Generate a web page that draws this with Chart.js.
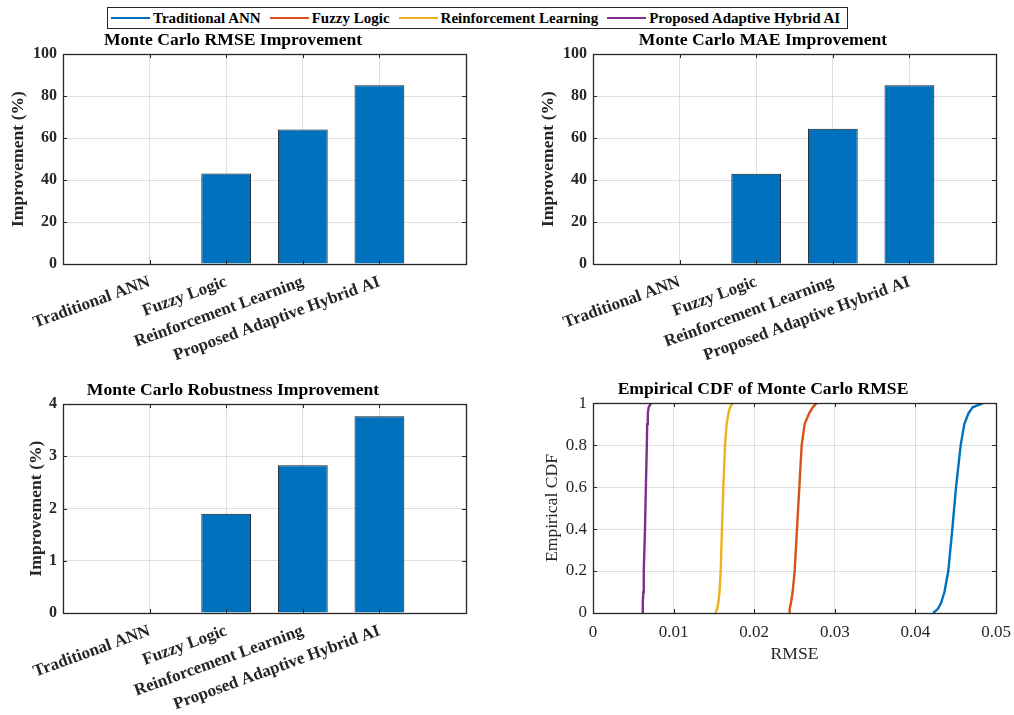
<!DOCTYPE html>
<html>
<head>
<meta charset="utf-8">
<script src="https://cdn.jsdelivr.net/npm/chart.js@4.4.1/dist/chart.umd.min.js"></script>
<style>
  body { margin: 0; background: #fff; width: 1014px; height: 715px; position: relative; overflow: hidden; }
  canvas { position: absolute; }
  #legend {
    position: absolute; left: 107px; top: 7px; width: 741px; height: 22px;
    border: 1px solid #262626; box-sizing: border-box; background: #fff;
    display: flex; align-items: center; padding-left: 3px;
    font: bold 15px "Liberation Serif", serif; color: #000; white-space: nowrap;
  }
  #legend .item { display: flex; align-items: center; margin-right: 9px; }
  #legend .swatch { width: 39px; height: 2px; margin-right: 3px; }
</style>
</head>
<body>
<div id="legend"></div>
<canvas id="rmseChart" width="507" height="358" style="left:0;top:27px"></canvas>
<canvas id="maeChart" width="484" height="358" style="left:530px;top:27px"></canvas>
<canvas id="robustChart" width="507" height="338" style="left:0;top:377px"></canvas>
<canvas id="cdfChart" width="484" height="339" style="left:530px;top:376px"></canvas>
<script>
// methods compared in the Monte Carlo runs
const methods = ['Traditional ANN', 'Fuzzy Logic', 'Reinforcement Learning', 'Proposed Adaptive Hybrid AI'];
const methodColors = ['#0072BD', '#D95319', '#EDB120', '#7E2F8E'];

// improvement over the traditional ANN (%)
const rmseImprovement = [0, 43.1, 64.1, 85.2];
const maeImprovement = [0, 43.0, 64.4, 85.2];
const robustnessImprovement = [0, 1.90, 2.83, 3.77];

// empirical CDF of RMSE: RMSE value reached at each CDF level
const cdfLevels = [0, 0.02, 0.05, 0.1, 0.2, 0.4, 0.6, 0.8, 0.9, 0.95, 0.98, 1];
const rmseANN = [0.0422, 0.0428, 0.0432, 0.0436, 0.04408, 0.04458, 0.04504, 0.04562, 0.04607, 0.04657, 0.0471, 0.0484];
const rmseFuzzy = [0.02432, 0.0244, 0.02457, 0.02477, 0.02502, 0.02531, 0.0256, 0.02589, 0.02626, 0.0268, 0.02726, 0.02775];
const rmseRL = [0.0152, 0.0154, 0.01555, 0.0157, 0.01584, 0.016, 0.01617, 0.01638, 0.01658, 0.0168, 0.017, 0.01733];
const rmseHybrid = [0.0061, 0.00615, 0.0062, 0.00625, 0.0063, 0.00645, 0.00656, 0.00668, 0.00672, 0.0068, 0.0069, 0.0072];
const cdfSeries = [rmseANN, rmseFuzzy, rmseRL, rmseHybrid];

const serif = '"Liberation Serif", "Times New Roman", serif';
const axisColor = '#262626';
const gridColor = 'rgba(38,38,38,0.15)';

// legend row
const legendEl = document.getElementById('legend');
methods.forEach((m, i) => {
  const item = document.createElement('span');
  item.className = 'item';
  const sw = document.createElement('span');
  sw.className = 'swatch';
  sw.style.background = methodColors[i];
  item.appendChild(sw);
  item.appendChild(document.createTextNode(m));
  legendEl.appendChild(item);
});

// full box around the plot area with inward tick marks on all four sides
const axesBox = {
  id: 'axesBox',
  afterDatasetsDraw(chart) {
    const {ctx, chartArea: a, scales} = chart;
    const len = 4;
    ctx.save();
    ctx.strokeStyle = axisColor;
    ctx.lineWidth = 1;
    ctx.beginPath();
    scales.x.ticks.forEach(t => {
      const px = Math.round(scales.x.getPixelForValue(t.value)) + 0.5;
      ctx.moveTo(px, a.bottom); ctx.lineTo(px, a.bottom - len);
      ctx.moveTo(px, a.top); ctx.lineTo(px, a.top + len);
    });
    scales.y.ticks.forEach(t => {
      const py = Math.round(scales.y.getPixelForValue(t.value)) + 0.5;
      ctx.moveTo(a.left, py); ctx.lineTo(a.left + len, py);
      ctx.moveTo(a.right, py); ctx.lineTo(a.right - len, py);
    });
    ctx.stroke();
    ctx.lineWidth = 1.3;
    ctx.strokeRect(Math.round(a.left) + 0.5, Math.round(a.top) + 0.5,
                   Math.round(a.right - a.left), Math.round(a.bottom - a.top));
    ctx.restore();
  }
};

// keep the plot area fixed: no extra room for overhanging tick labels
function noLabelPadding(s) {
  s.paddingLeft = 0; s.paddingRight = 0; s.paddingTop = 0; s.paddingBottom = 0;
}

const plainNumber = v => String(+Number(v).toFixed(3));

function barChart(id, title, values, yMax, yStep, yTitlePad, rightPad, xAxisHeight) {
  return new Chart(document.getElementById(id), {
    type: 'bar',
    data: {
      datasets: [{
        data: values.map((v, i) => ({x: i + 1, y: v})),
        backgroundColor: '#0072BD',
        borderColor: '#1a1a1a',
        borderWidth: 1,
        barPercentage: 0.65,
        categoryPercentage: 1
      }]
    },
    options: {
      responsive: false,
      animation: false,
      layout: {padding: {left: 0, right: rightPad, top: 0, bottom: 0}},
      plugins: {
        legend: {display: false},
        tooltip: {enabled: false},
        title: {
          display: true, text: title, color: '#000',
          font: {family: serif, size: 17.6, weight: 'bold'},
          padding: {top: 3, bottom: 3}
        }
      },
      scales: {
        x: {
          type: 'linear', min: -0.13, max: 5.13, offset: false,
          afterBuildTicks: s => { s.ticks = methods.map((m, i) => ({value: i + 1})); },
          afterFit: s => { s.height = xAxisHeight; noLabelPadding(s); },
          grid: {color: gridColor, drawTicks: false, offset: false},
          border: {display: false},
          ticks: {
            autoSkip: false, minRotation: 20, maxRotation: 20, padding: 8,
            color: axisColor, font: {family: serif, size: 17, weight: 'bold'},
            callback: v => methods[v - 1]
          }
        },
        y: {
          min: 0, max: yMax,
          afterFit: s => { s.width = 63; noLabelPadding(s); },
          grid: {color: gridColor, drawTicks: false},
          border: {display: false},
          ticks: {stepSize: yStep, padding: 6, color: axisColor, font: {family: serif, size: 16, weight: 'bold'}},
          title: {
            display: true, text: 'Improvement (%)', color: axisColor,
            font: {family: serif, size: 17.6, weight: 'bold'},
            padding: {top: yTitlePad, bottom: 0}
          }
        }
      }
    },
    plugins: [axesBox]
  });
}

barChart('rmseChart', 'Monte Carlo RMSE Improvement', rmseImprovement, 100, 20, 7.4, 41, 121);
barChart('maeChart', 'Monte Carlo MAE Improvement', maeImprovement, 100, 20, 7.7, 18, 121);
barChart('robustChart', 'Monte Carlo Robustness Improvement', robustnessImprovement, 4, 1, 25.7, 41, 102);

new Chart(document.getElementById('cdfChart'), {
  type: 'line',
  data: {
    datasets: methods.map((m, i) => ({
      label: m,
      data: cdfSeries[i].map((x, k) => ({x: x, y: cdfLevels[k]})),
      borderColor: methodColors[i],
      borderWidth: 2.4,
      pointRadius: 0,
      tension: 0,
      fill: false
    }))
  },
  options: {
    responsive: false,
    animation: false,
    layout: {padding: {left: 0, right: 18, top: 0, bottom: 0}},
    plugins: {
      legend: {display: false},
      tooltip: {enabled: false},
      title: {
        display: true, text: 'Empirical CDF of Monte Carlo RMSE', color: '#000',
        font: {family: serif, size: 17.6, weight: 'bold'},
        padding: {top: 3, bottom: 3}
      }
    },
    scales: {
      x: {
        type: 'linear', min: 0, max: 0.05,
        afterFit: s => { s.height = 102; noLabelPadding(s); },
        grid: {color: gridColor, drawTicks: false},
        border: {display: false},
        ticks: {stepSize: 0.01, padding: 9, color: axisColor, font: {family: serif, size: 17}, callback: plainNumber},
        title: {
          display: true, text: 'RMSE', color: axisColor,
          font: {family: serif, size: 17.6},
          padding: {top: 0, bottom: 50}
        }
      },
      y: {
        min: 0, max: 1,
        afterFit: s => { s.width = 63; noLabelPadding(s); },
        grid: {color: gridColor, drawTicks: false},
        border: {display: false},
        ticks: {stepSize: 0.2, padding: 6, color: axisColor, font: {family: serif, size: 17}, callback: plainNumber},
        title: {
          display: true, text: 'Empirical CDF', color: axisColor,
          font: {family: serif, size: 17.6},
          padding: {top: 11.4, bottom: 0}
        }
      }
    }
  },
  plugins: [axesBox]
});
</script>
</body>
</html>
